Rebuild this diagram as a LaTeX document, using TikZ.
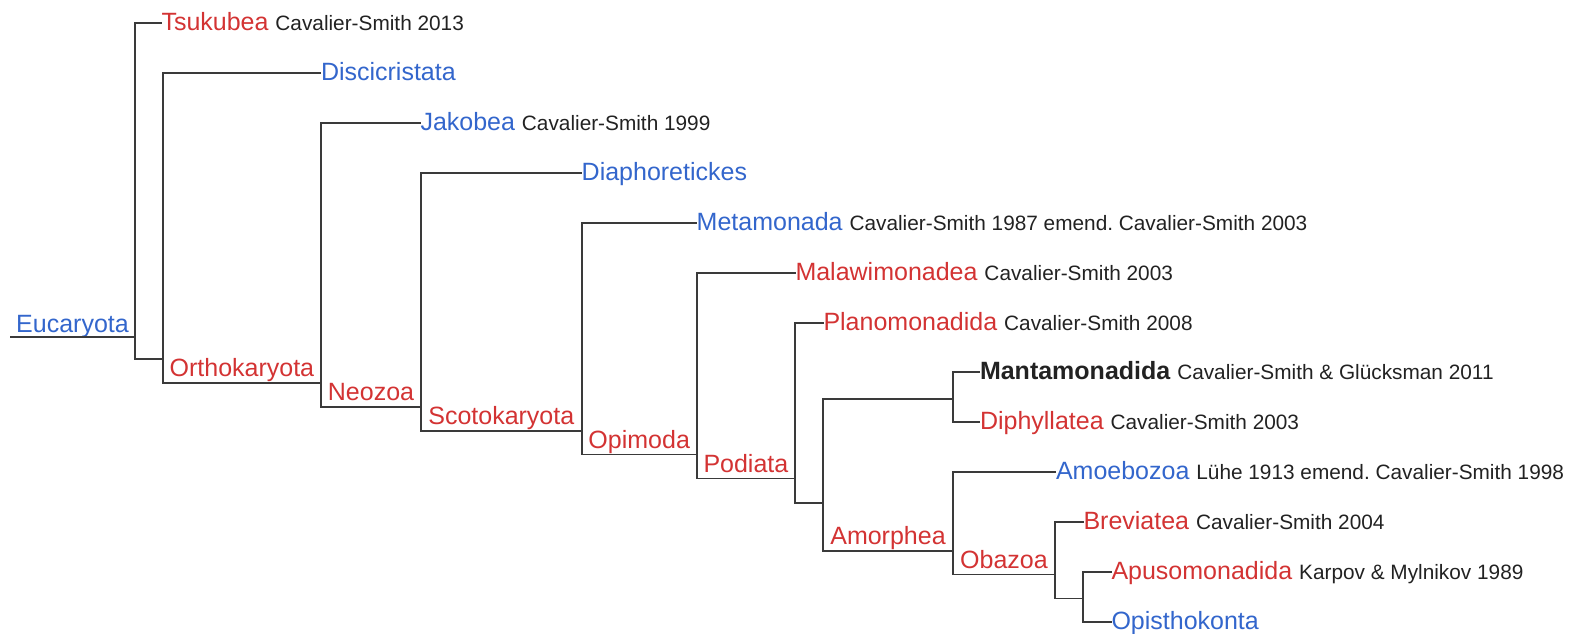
\documentclass[tikz,border=0pt]{standalone}
\usepackage{fontspec}
\setmainfont{Liberation Sans}
\frenchspacing
\definecolor{linkblue}{HTML}{3366CC}
\definecolor{linkred}{HTML}{D33333}
\definecolor{authc}{HTML}{222222}
\definecolor{edgec}{HTML}{3A3A3A}
\newcommand{\authtxt}[1]{{\fontsize{20.8}{25}\selectfont\color{authc}#1}}
\newcommand{\redname}[1]{\textcolor{linkred}{#1}}
\newcommand{\bluename}[1]{\textcolor{linkblue}{#1}}
\tikzset{
  edge/.style={draw=edgec, line width=1.9pt},
  leaf/.style={anchor=west, inner sep=0pt, outer sep=0pt, text height=15pt, text depth=0pt, font=\fontsize{25}{30}\selectfont},
  clab/.style={anchor=base, inner sep=0pt, font=\fontsize{25}{30}\selectfont, text=linkred},
}
\begin{document}
\begin{tikzpicture}[x=1pt, y=-1pt]
\useasboundingbox (0,0) rectangle (1583,633);
% junction coordinates
\coordinate (r0) at (10,336.7);
\coordinate (E) at (135,336.7);
\coordinate (c1) at (162.7,359);
\coordinate (O) at (321,382.7);
\coordinate (N) at (421,406.7);
\coordinate (S) at (581.7,430.7);
\coordinate (Op) at (696.7,454.5);
\coordinate (P) at (795,478.5);
\coordinate (c2) at (823,502.7);
\coordinate (c3) at (953,399);
\coordinate (A) at (953,550.7);
\coordinate (Ob) at (1055,574.5);
\coordinate (c4) at (1083,598.5);
% leaves
\node[leaf] (tsu) at (161.5,23) {\redname{Tsukubea} \authtxt{Cavalier-Smith 2013}};
\node[leaf] (disc) at (321,72.7) {\bluename{Discicristata}};
\node[leaf] (jak) at (420.5,122.7) {\bluename{Jakobea} \authtxt{Cavalier-Smith 1999}};
\node[leaf] (dia) at (581.7,172.7) {\bluename{Diaphoretickes}};
\node[leaf] (met) at (696.7,222.7) {\bluename{Metamonada} \authtxt{Cavalier-Smith 1987 emend. Cavalier-Smith 2003}};
\node[leaf] (mal) at (795.5,272.7) {\redname{Malawimonadea} \authtxt{Cavalier-Smith 2003}};
\node[leaf] (pla) at (823.5,322.7) {\redname{Planomonadida} \authtxt{Cavalier-Smith 2008}};
\node[leaf] (man) at (980,372.3) {\textcolor{authc}{\bfseries Mantamonadida} \authtxt{Cavalier-Smith \& Glücksman 2011}};
\node[leaf] (diph) at (980,422.3) {\redname{Diphyllatea} \authtxt{Cavalier-Smith 2003}};
\node[leaf] (amo) at (1056,472.3) {\bluename{Amoebozoa} \authtxt{Lühe 1913 emend. Cavalier-Smith 1998}};
\node[leaf] (bre) at (1083.5,522.2) {\redname{Breviatea} \authtxt{Cavalier-Smith 2004}};
\node[leaf] (apu) at (1111.5,572) {\redname{Apusomonadida} \authtxt{Karpov \& Mylnikov 1989}};
\node[leaf] (opi) at (1111.5,621.7) {\bluename{Opisthokonta}};
% clade labels
\node[clab, text=linkblue] (eucL) at (72.5,332.5) {Eucaryota};
\node[clab] (orthoL) at (241.9,376.7) {Orthokaryota};
\node[clab] (neoL) at (371,400.7) {Neozoa};
\node[clab] (scotL) at (501.3,424.7) {Scotokaryota};
\node[clab] (opiL) at (639.2,448.5) {Opimoda};
\node[clab] (podL) at (745.9,472.5) {Podiata};
\node[clab] (amoL) at (888,544.7) {Amorphea};
\node[clab] (obaL) at (1004,568.5) {Obazoa};
% edges
\draw[edge] (r0) -- (E);
\draw[edge] (tsu.west) -| (E);
\draw[edge] (c1) -| (E);
\draw[edge] (disc.west) -| (c1);
\draw[edge] (O) -| (c1);
\draw[edge] (jak.west) -| (O);
\draw[edge] (N) -| (O);
\draw[edge] (dia.west) -| (N);
\draw[edge] (S) -| (N);
\draw[edge] (met.west) -| (S);
\draw[edge] (Op) -| (S);
\draw[edge] (mal.west) -| (Op);
\draw[edge] (P) -| (Op);
\draw[edge] (pla.west) -| (P);
\draw[edge] (c2) -| (P);
\draw[edge] (c3) -| (c2);
\draw[edge] (A) -| (c2);
\draw[edge] (man.west) -| (c3);
\draw[edge] (diph.west) -| (c3);
\draw[edge] (amo.west) -| (A);
\draw[edge] (Ob) -| (A);
\draw[edge] (bre.west) -| (Ob);
\draw[edge] (c4) -| (Ob);
\draw[edge] (apu.west) -| (c4);
\draw[edge] (opi.west) -| (c4);
\end{tikzpicture}
\end{document}
